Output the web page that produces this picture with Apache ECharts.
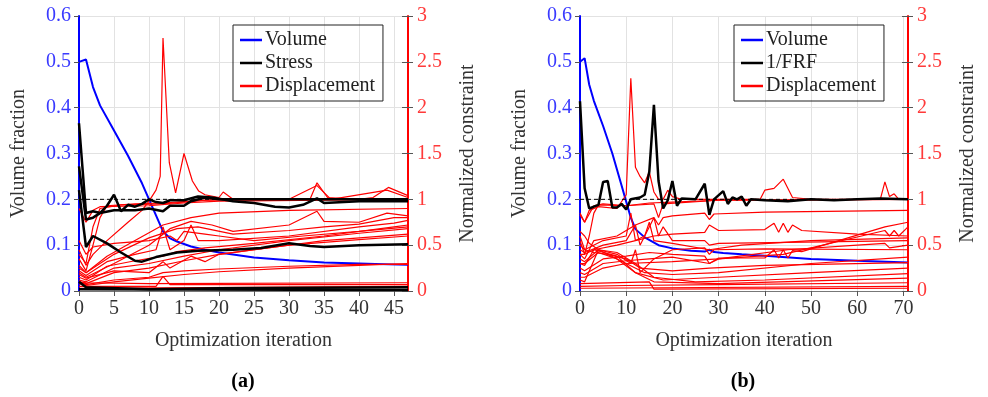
<!DOCTYPE html>
<html>
<head>
<meta charset="utf-8">
<script src="https://cdn.jsdelivr.net/npm/echarts@6/dist/echarts.min.js"></script>
<style>
  html, body { margin: 0; padding: 0; background: #fff; }
  #main { width: 988px; height: 397px; }
</style>
</head>
<body>
<div id="main"></div>
<script>
// (a) stress problem, (b) 1/FRF problem
// pairs are [iteration, value]; volume on left axis, constraints on right axis
var volA = [[0,0.5],[1,0.505],[2,0.445],[3,0.405],[5,0.35],[7,0.295],[9,0.235],[10,0.2],[11,0.165],[12,0.13],[13,0.115],[14,0.108],[16,0.097],[18,0.09],[20,0.084],[25,0.073],[30,0.067],[35,0.062],[40,0.06],[47,0.057]]

var stressA = [
    [[0,1.83],[1,0.85],[2,0.87],[3,0.85],[4,0.93],[5,1.05],[6,0.87],[7,0.94],[8,0.92],[9,0.95],[10,1.0],[11,0.97],[12,0.96],[13,0.99],[15,0.99],[17,1.03],[19,1.02],[22,0.98],[25,0.96],[28,0.92],[30,0.91],[32,0.94],[34,1.01],[35,0.96],[40,0.98],[47,0.98]],
    [[0,1.36],[1,0.78],[2,0.8],[3,0.85],[5,0.88],[8,0.88],[10,0.9],[12,0.87],[13,0.93],[15,0.93],[16,0.98],[18,1.02],[20,1.0],[47,1.0]],
    [[0,1.1],[1,0.48],[2,0.6],[4,0.52],[6,0.42],[8,0.33],[9,0.32],[11,0.37],[14,0.42],[17,0.44],[22,0.45],[26,0.47],[30,0.52],[33,0.49],[35,0.48],[40,0.5],[47,0.51]],
    [[0,0.1],[1,0.04],[10,0.02],[20,0.03],[47,0.04]],
    [[0,0.02],[47,0.01]]
]

var dispA = [
    [[0,0.45],[1,0.28],[2,0.4],[4,0.55],[7,0.75],[9,0.88],[10,0.98],[11,1.1],[11.6,1.25],[12,2.76],[12.9,1.4],[13.8,1.07],[15,1.5],[16.2,1.2],[17.1,1.09],[18,1.05],[20,1.02],[20.6,1.08],[22,1.0],[33,1.0],[34,1.18],[35.5,1.02],[40,1.0],[42,1.02],[44.2,1.13],[47,1.04]],
    [[0,0.35],[1,0.22],[2,0.5],[3,0.8],[4,0.93],[8,0.95],[12,0.96],[16,0.98],[20,1.0],[47,1.0]],
    [[0,0.4],[1,0.3],[2,0.7],[3,0.9],[6,0.94],[12,0.95],[18,0.99],[30,1.0],[34,1.15],[36,1.0],[44,1.1],[47,1.02]],
    [[0,0.9],[1,0.75],[2,0.88],[3,0.92],[10,0.93],[15,0.96],[20,0.98],[47,1.0]],
    [[0,0.25],[1,0.2],[4,0.38],[8,0.55],[12,0.72],[16,0.8],[20,0.85],[30,0.88],[47,0.9]],
    [[0,0.2],[1,0.15],[5,0.3],[10,0.5],[13,0.68],[16,0.76],[19,0.72],[22,0.65],[30,0.72],[34,0.87],[35,0.76],[40,0.75],[44,0.85],[47,0.82]],
    [[0,0.28],[1,0.2],[5,0.4],[10,0.58],[14,0.68],[17,0.7],[22,0.62],[30,0.66],[35,0.7],[40,0.73],[45,0.8],[47,0.8]],
    [[0,0.22],[1,0.17],[4,0.32],[8,0.4],[11,0.45],[12,0.7],[13,0.45],[15,0.55],[16,0.72],[17,0.55],[20,0.55],[30,0.6],[40,0.7],[45,0.74],[47,0.77]],
    [[0,0.55],[1,0.4],[2,0.48],[5,0.52],[10,0.55],[13,0.6],[14,0.55],[15,0.65],[18,0.62],[20,0.6],[25,0.55],[32,0.6],[40,0.65],[47,0.7]],
    [[0,0.15],[1,0.12],[4,0.27],[8,0.33],[12,0.38],[14,0.43],[18,0.47],[25,0.52],[35,0.6],[45,0.7],[47,0.72]],
    [[0,0.12],[1,0.1],[5,0.25],[10,0.3],[15,0.38],[20,0.45],[30,0.55],[40,0.63],[47,0.68]],
    [[0,0.18],[1,0.14],[5,0.22],[10,0.2],[12,0.32],[13,0.25],[16,0.38],[18,0.32],[20,0.4],[25,0.45],[35,0.55],[47,0.62]],
    [[0,0.1],[1,0.08],[5,0.2],[10,0.25],[15,0.33],[20,0.4],[30,0.5],[40,0.56],[47,0.6]],
    [[0,0.1],[1,0.07],[5,0.12],[10,0.15],[12,0.2],[15,0.22],[20,0.24],[30,0.27],[40,0.29],[47,0.29]],
    [[0,0.08],[1,0.06],[5,0.1],[10,0.14],[15,0.18],[20,0.21],[30,0.25],[40,0.28],[47,0.3]],
    [[0,0.1],[1,0.09],[10,0.08],[47,0.09]],
    [[0,0.05],[1,0.05],[11,0.05],[12,0.16],[13,0.07],[47,0.07]],
    [[0,0.03],[47,0.05]]
]

var volB = [[0,0.5],[1,0.508],[2,0.45],[3,0.415],[5,0.36],[7,0.3],[9,0.23],[10,0.195],[11,0.16],[12,0.135],[14,0.117],[17,0.1],[20,0.093],[24,0.088],[27,0.086],[28,0.09],[29,0.085],[31,0.083],[35,0.08],[40,0.077],[50,0.07],[60,0.066],[71,0.062]]

var frfB = [[0,2.07],[1,1.12],[2,0.9],[3,0.92],[4,0.94],[5,1.19],[6,1.2],[7,0.91],[8,0.91],[9,0.95],[10,0.89],[11,1.0],[13,1.02],[14,1.05],[15,1.3],[16,2.03],[17,1.2],[18,0.9],[19,0.99],[20,1.2],[21,0.93],[22,1.01],[25,1.0],[27,1.17],[28,0.83],[29,1.0],[31,1.09],[32,0.95],[33,1.02],[34,1.0],[35,1.03],[36,0.93],[37,1.0],[40,0.99],[45,0.98],[50,1.0],[55,0.99],[60,1.0],[65,1.01],[71,1.0]]

var dispB = [
    [[0,0.85],[1,0.75],[2,0.88],[4,0.92],[8,0.9],[10,1.05],[11,2.32],[12,1.35],[13,1.25],[14,1.18],[15,1.3],[16,1.08],[17,1.0],[18,1.0],[19,1.1],[20,1.03],[22,1.0],[39,1.0],[40,1.1],[42,1.12],[44,1.22],[46,1.02],[50,1.0],[65,1.0],[66,1.19],[67,1.03],[68,1.06],[69,1.0],[71,1.0]],
    [[0,0.83],[1,0.75],[3,0.93],[5,0.95],[10,0.93],[15,0.96],[20,0.97],[30,0.99],[71,1.0]],
    [[0,0.55],[1,0.4],[2,0.6],[3,0.85],[4,0.94],[10,0.93],[16,0.95],[17,0.8],[18,0.95],[30,0.99],[71,1.0]],
    [[0,0.4],[1,0.35],[3,0.55],[8,0.6],[12,0.72],[16,0.8],[17,0.72],[18,0.8],[20,0.82],[27,0.85],[28,0.78],[29,0.84],[40,0.86],[71,0.88]],
    [[0,0.3],[1,0.28],[3,0.45],[8,0.5],[12,0.55],[16,0.6],[20,0.62],[27,0.64],[28,0.72],[30,0.66],[40,0.67],[42,0.74],[43,0.64],[44,0.74],[45,0.64],[46,0.72],[48,0.66],[60,0.62],[71,0.6]],
    [[0,0.25],[1,0.22],[5,0.35],[10,0.38],[15,0.42],[20,0.4],[27,0.38],[28,0.3],[30,0.36],[40,0.36],[42,0.45],[43,0.36],[44,0.45],[45,0.36],[46,0.44],[48,0.43],[66,0.7],[71,0.75]],
    [[0,0.2],[1,0.18],[5,0.3],[10,0.33],[15,0.35],[20,0.37],[28,0.3],[30,0.35],[44,0.4],[66,0.66],[67,0.6],[68,0.66],[69,0.6],[71,0.7]],
    [[0,0.15],[1,0.15],[5,0.25],[10,0.3],[20,0.32],[30,0.35],[45,0.45],[60,0.5],[66,0.52],[67,0.47],[71,0.5]],
    [[0,0.12],[1,0.1],[4,0.45],[8,0.4],[11,0.3],[12,0.45],[13,0.2],[16,0.35],[20,0.45],[27,0.47],[28,0.4],[29,0.45],[40,0.46],[71,0.45]],
    [[0,0.65],[1,0.6],[2,0.52],[4,0.45],[10,0.3],[14,0.2],[20,0.18],[30,0.2],[50,0.3],[71,0.37]],
    [[0,0.6],[1,0.45],[3,0.42],[6,0.4],[10,0.35],[13,0.25],[20,0.22],[28,0.25],[40,0.28],[71,0.31]],
    [[0,0.4],[1,0.4],[3,0.45],[8,0.38],[12,0.2],[18,0.12],[30,0.15],[50,0.2],[71,0.25]],
    [[0,0.35],[1,0.32],[4,0.45],[8,0.42],[12,0.3],[16,0.15],[25,0.1],[40,0.12],[71,0.19]],
    [[0,0.3],[1,0.3],[4,0.42],[8,0.35],[12,0.2],[16,0.1],[30,0.08],[71,0.14]],
    [[0,0.5],[1,0.45],[5,0.55],[10,0.6],[11,0.85],[12,0.55],[14,0.6],[15,0.75],[16,0.55],[20,0.52],[28,0.45],[35,0.5],[50,0.55],[71,0.58]],
    [[0,0.45],[1,0.42],[5,0.5],[10,0.55],[12,0.72],[13,0.5],[16,0.8],[17,0.6],[18,0.7],[20,0.55],[27,0.55],[28,0.5],[30,0.52],[71,0.55]],
    [[0,0.05],[10,0.06],[30,0.07],[71,0.09]],
    [[0,0.08],[15,0.1],[16,0.02],[71,0.03]],
    [[0,0.03],[71,0.05]]
]

var limitA = [[0,1],[47,1]]
var limitB = [[0,1],[71,1]]
var xMaxA = 47, xMaxB = 71

var FONT = 'Liberation Serif'
var BLUE = '#0000ff', RED = '#ff0000'

var chart = echarts.init(document.getElementById('main'))

function line(name, data, color, width, xi, yi, z) {
    return {
        name: name,
        type: 'line',
        data: data,
        xAxisIndex: xi,
        yAxisIndex: yi,
        symbol: 'none',
        silent: true,
        animation: false,
        z: z,
        lineStyle: { color: color, width: width },
        itemStyle: { color: color }
    }
}

function xAx(gi, max, step) {
    return {
        type: 'value', gridIndex: gi, min: 0, max: max, interval: step,
        name: 'Optimization iteration', nameLocation: 'middle', nameGap: 40,
        nameTextStyle: { fontFamily: FONT, fontSize: 20, color: '#333' },
        axisLine: { lineStyle: { color: '#777', width: 1 } },
        axisTick: { length: 5, lineStyle: { color: '#555' } },
        axisLabel: { fontFamily: FONT, fontSize: 20, color: '#333', margin: 8, showMaxLabel: false },
        splitLine: { lineStyle: { color: '#e2e2e2' } }
    }
}

function yAxes(gi) {
    return [{
        type: 'value', gridIndex: gi, position: 'left', min: 0, max: 0.6, interval: 0.1,
        name: 'Volume fraction', nameLocation: 'middle', nameGap: 50,
        nameTextStyle: { fontFamily: FONT, fontSize: 20, color: '#333' },
        axisLine: { show: true, lineStyle: { color: BLUE, width: 2 } },
        axisTick: { show: true, length: 5, lineStyle: { color: '#555' } },
        axisLabel: { fontFamily: FONT, fontSize: 20, color: '#3a3aff', margin: 8 },
        splitLine: { lineStyle: { color: '#e2e2e2' } }
    }, {
        type: 'value', gridIndex: gi, position: 'right', min: 0, max: 3, interval: 0.5,
        name: 'Normalized constraint', nameLocation: 'middle', nameGap: 50, nameRotate: 90,
        nameTextStyle: { fontFamily: FONT, fontSize: 20, color: '#333' },
        axisLine: { show: true, lineStyle: { color: RED, width: 2 } },
        axisTick: { show: true, length: 5, lineStyle: { color: '#555' } },
        axisLabel: { fontFamily: FONT, fontSize: 20, color: '#ff3a3a', margin: 9 },
        splitLine: { show: false }
    }, {
        // inner ticks on the right edge
        type: 'value', gridIndex: gi, position: 'right', min: 0, max: 3, interval: 0.5,
        axisLine: { show: false },
        axisTick: { show: true, inside: true, length: 6, lineStyle: { color: '#555' } },
        axisLabel: { show: false },
        splitLine: { show: false }
    }]
}

var series = []
// panel (a)
series.push(line('Volume', volA, BLUE, 2, 0, 0, 2))
dispA.forEach(function (d) { series.push(line('Displacement', d, RED, 1.2, 0, 1, 3)) })
stressA.forEach(function (d) { series.push(line('Stress', d, '#000', 2.5, 0, 1, 4)) })
var dashA = line('limit', limitA, '#000', 1, 0, 1, 5)
dashA.lineStyle.type = [4, 3]
series.push(dashA)
// panel (b)
series.push(line('Volume', volB, BLUE, 2, 1, 3, 2))
dispB.forEach(function (d) { series.push(line('Displacement', d, RED, 1.2, 1, 4, 3)) })
series.push(line('1/FRF', frfB, '#000', 2.5, 1, 4, 4))
var dashB = line('limit', limitB, '#000', 1, 1, 4, 5)
dashB.lineStyle.type = [4, 3]
series.push(dashB)

function legend(left, names) {
    return {
        left: left, top: 25, orient: 'vertical',
        data: names.map(function (n) { return { name: n, icon: 'rect' } }),
        borderColor: '#222', borderWidth: 1, padding: [5, 8, 5, 7],
        itemGap: 3, itemWidth: 22, itemHeight: 2.5, selectedMode: false,
        textStyle: { fontFamily: FONT, fontSize: 20, color: '#222', lineHeight: 20, padding: [0, 0, 0, -2] }
    }
}

option = {
    backgroundColor: '#fff',
    animation: false,
    grid: [
        { left: 79, top: 16, width: 329, height: 275 },
        { left: 580, top: 16, width: 328, height: 275 }
    ],
    xAxis: [xAx(0, xMaxA, 5), xAx(1, xMaxB, 10)],
    yAxis: yAxes(0).concat(yAxes(1)),
    legend: [
        legend(233, ['Volume', 'Stress', 'Displacement']),
        legend(734, ['Volume', '1/FRF', 'Displacement'])
    ],
    graphic: [
        { type: 'text', x: 243, y: 382, style: { text: '(a)', fontFamily: FONT, fontSize: 20, fontWeight: 'bold', fill: '#000', align: 'center', verticalAlign: 'middle' } },
        { type: 'text', x: 743, y: 382, style: { text: '(b)', fontFamily: FONT, fontSize: 20, fontWeight: 'bold', fill: '#000', align: 'center', verticalAlign: 'middle' } }
    ],
    series: series
}

chart.setOption(option)
</script>
</body>
</html>
